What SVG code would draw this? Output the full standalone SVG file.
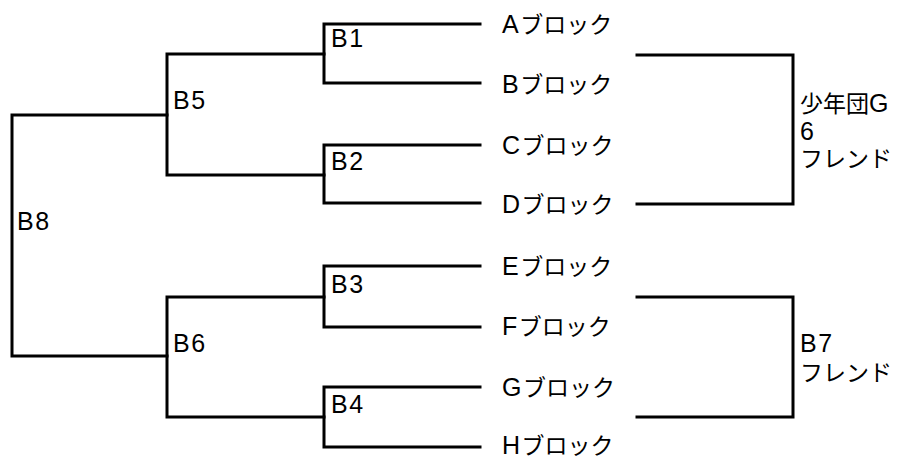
<svg xmlns="http://www.w3.org/2000/svg" width="913" height="459" viewBox="0 0 913 459">
<style>
.ln{fill:none;stroke:#000;stroke-width:3;stroke-linecap:square;stroke-linejoin:miter}
text{font-family:"Liberation Sans","Noto Sans CJK JP",sans-serif;font-size:23px;fill:#000}
.l{font-size:25px;letter-spacing:1.5px}
</style>
<rect width="913" height="459" fill="#fff"/>
<g id="connectors">
<path class="ln" d="M480,24 H324 V83 H480"/>
<path class="ln" d="M480,145 H324 V203 H480"/>
<path class="ln" d="M480,266 H324 V327 H480"/>
<path class="ln" d="M480,387 H324 V447 H480"/>
<path class="ln" d="M324,54 H167 V175 H324"/>
<path class="ln" d="M324,297 H167 V417 H324"/>
<path class="ln" d="M167,115 H12 V356 H167"/>
<path class="ln" d="M637,55 H793 V204 H637"/>
<path class="ln" d="M637,297 H793 V417 H637"/>
</g>
<g id="A"><text x="502" y="33"><tspan class="l">A</tspan>ブロック</text></g>
<g id="B"><text x="502" y="93"><tspan class="l">B</tspan>ブロック</text></g>
<g id="C"><text x="502" y="154"><tspan class="l">C</tspan>ブロック</text></g>
<g id="D"><text x="502" y="213"><tspan class="l">D</tspan>ブロック</text></g>
<g id="E"><text x="502" y="275"><tspan class="l">E</tspan>ブロック</text></g>
<g id="F"><text x="502" y="335"><tspan class="l">F</tspan>ブロック</text></g>
<g id="G"><text x="502" y="396"><tspan class="l">G</tspan>ブロック</text></g>
<g id="H"><text x="502" y="454"><tspan class="l">H</tspan>ブロック</text></g>
<g id="B1"><text class="l" x="331" y="47">B1</text></g>
<g id="B2"><text class="l" x="331" y="170">B2</text></g>
<g id="B3"><text class="l" x="331" y="293">B3</text></g>
<g id="B4"><text class="l" x="331" y="413">B4</text></g>
<g id="B5"><text class="l" x="173" y="109">B5</text></g>
<g id="B6"><text class="l" x="173" y="352">B6</text></g>
<g id="B8"><text class="l" x="17" y="230">B8</text></g>
<g id="G6"><text x="800" y="112">少年団<tspan class="l">G</tspan></text><text class="l" x="800" y="140">6</text><text x="800" y="167">フレンド</text></g>
<g id="B7"><text class="l" x="800" y="352">B7</text><text x="800" y="381">フレンド</text></g>
</svg>
